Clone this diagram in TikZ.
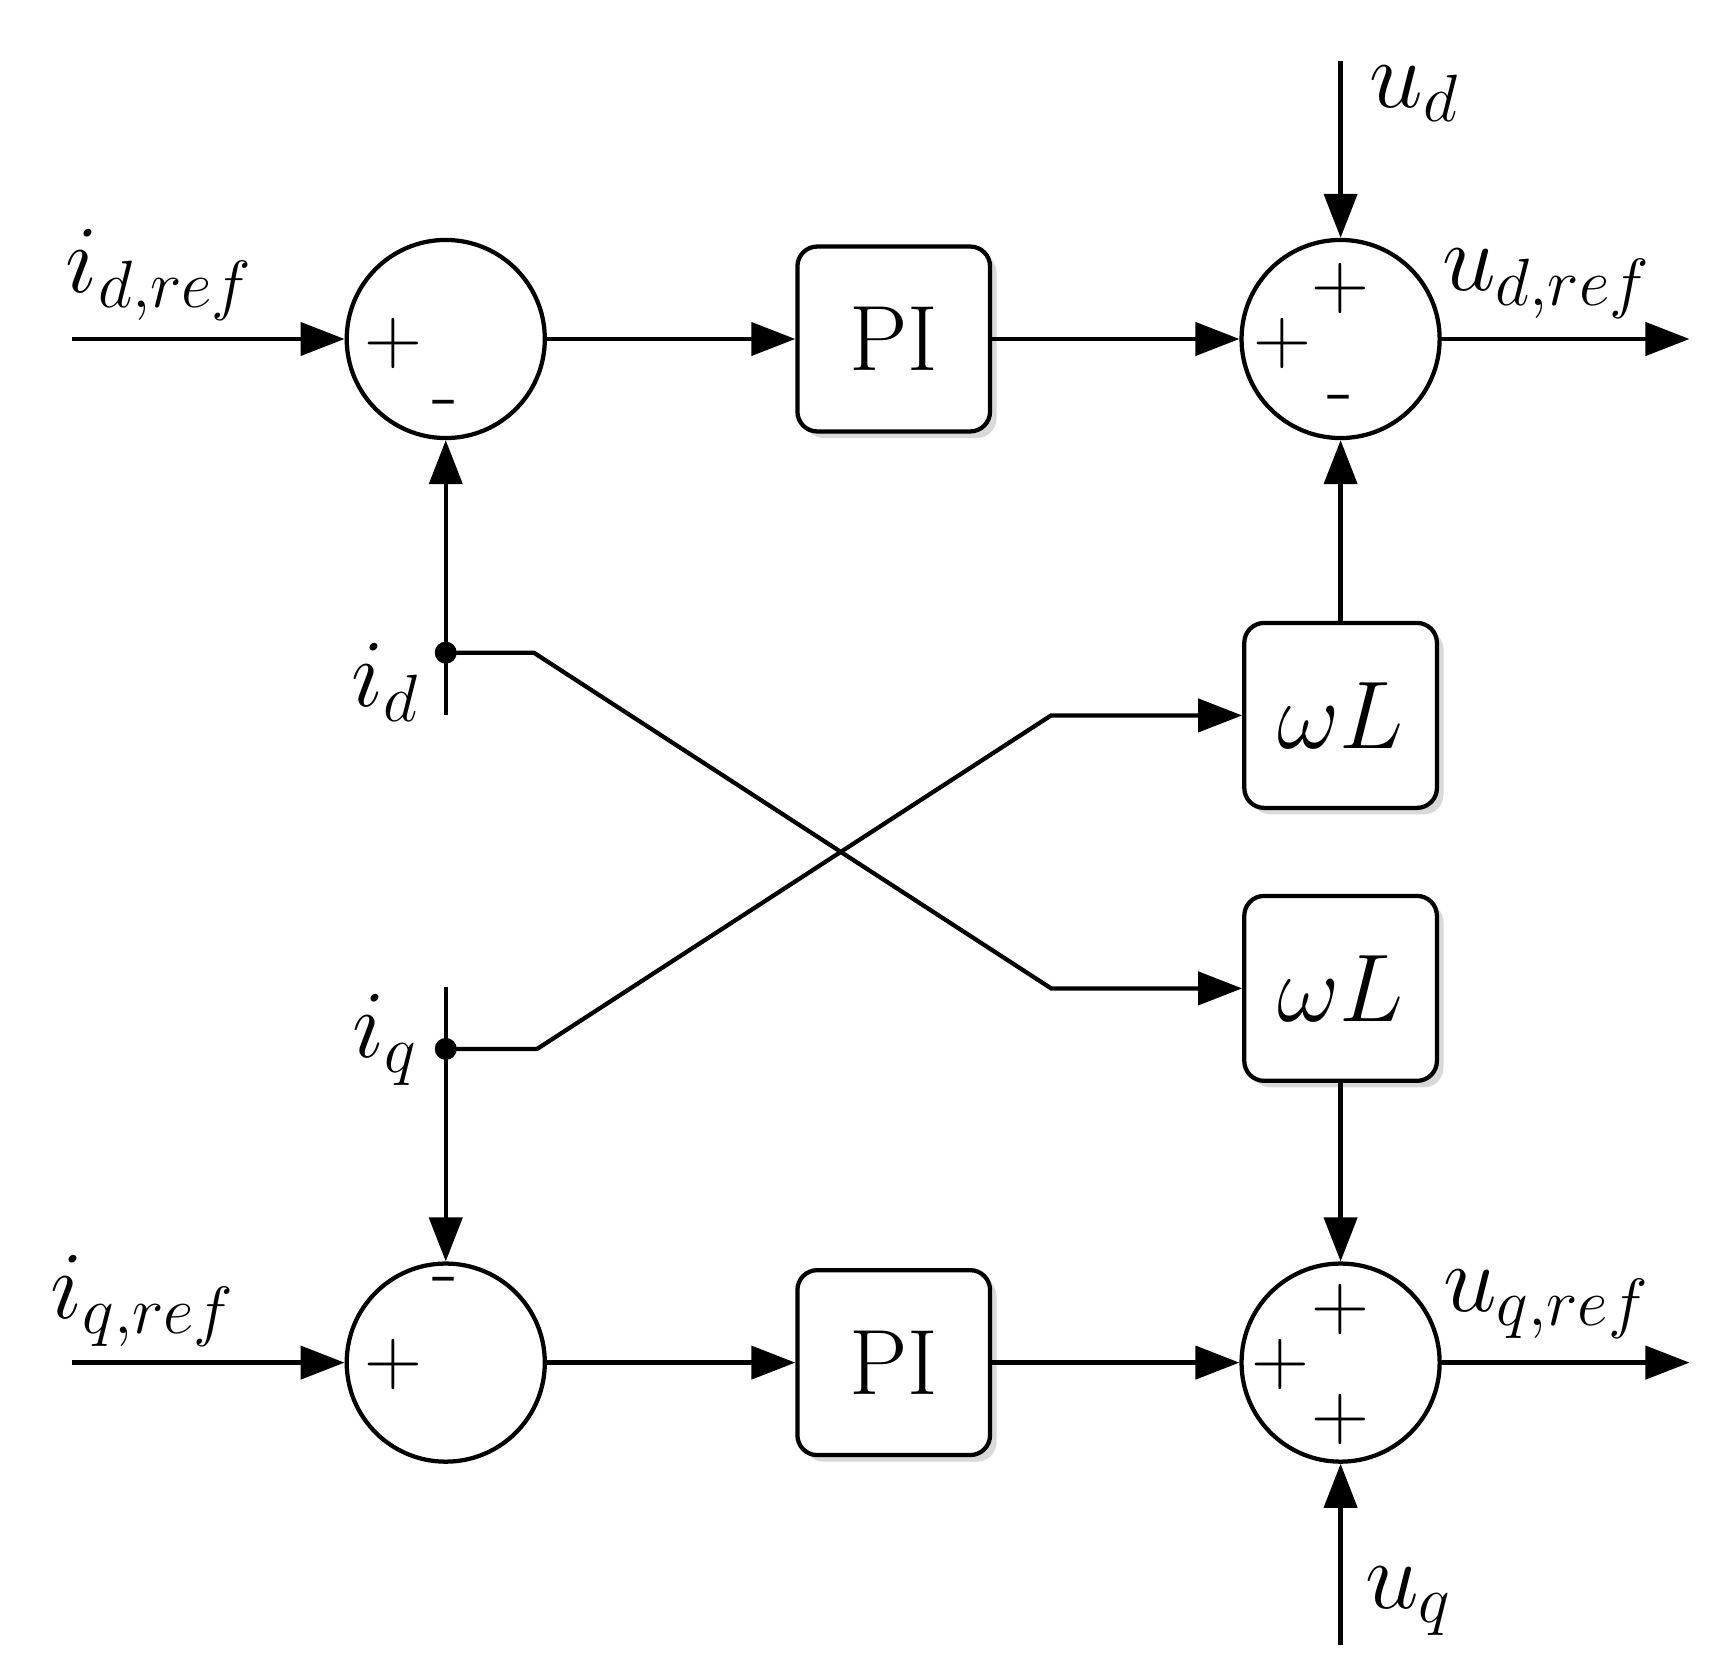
\documentclass[tikz,border=0pt]{standalone}
\usepackage{amsmath}
\usetikzlibrary{arrows.meta,shadows}
\tikzset{
  sumnode/.style={draw,circle,line width=1.1pt,minimum size=1.8cm,inner sep=0pt,fill=white},
  blk/.style={draw,rounded corners=0.18cm,line width=1.1pt,minimum width=1.75cm,minimum height=1.68cm,fill=white,
    drop shadow={shadow xshift=0.06cm,shadow yshift=-0.06cm,opacity=0.3},font=\fontsize{24}{28}\selectfont},
  sig/.style={line width=1.1pt,-{Triangle[length=0.4cm,width=0.3cm]}},
  wire/.style={line width=1.1pt},
  lbl/.style={font=\fontsize{25}{30}\selectfont},
  sgn/.style={font=\fontsize{22}{26}\selectfont,inner sep=0pt}
}
\begin{document}
\begin{tikzpicture}
\useasboundingbox (0,0) rectangle (15.6,-15.13);
% summing points
\node[sumnode] (s1) at (4.05,-3.08) {};
\node[sumnode] (s2) at (12.18,-3.08) {};
\node[sumnode] (s3) at (4.05,-12.38) {};
\node[sumnode] (s4) at (12.18,-12.38) {};
% blocks
\node[blk] (pid) at (8.12,-3.08) {PI};
\node[blk] (piq) at (8.12,-12.38) {PI};
\node[blk] (wl1) at (12.18,-6.50) {$\omega L$};
\node[blk] (wl2) at (12.18,-8.98) {$\omega L$};
% signs
\node[sgn] at (3.57,-3.12) {$+$};
\node[sgn] at (4.05,-3.73) {-};
\node[sgn] at (12.18,-2.62) {$+$};
\node[sgn] at (11.65,-3.12) {$+$};
\node[sgn] at (12.18,-3.68) {-};
\node[sgn] at (4.05,-11.70) {-};
\node[sgn] at (3.57,-12.40) {$+$};
\node[sgn] at (12.18,-11.90) {$+$};
\node[sgn] at (11.63,-12.40) {$+$};
\node[sgn] at (12.18,-12.90) {$+$};
% terminals
\coordinate (idin) at (0.65,-3.08);
\coordinate (iqin) at (0.65,-12.38);
\coordinate (udout) at (15.35,-3.08);
\coordinate (uqout) at (15.35,-12.38);
\coordinate (udin) at (12.18,-0.55);
\coordinate (uqin) at (12.18,-14.95);
\coordinate (jd) at (4.05,-5.93);
\coordinate (jq) at (4.05,-9.53);
\coordinate (jdend) at (4.05,-6.50);
\coordinate (jqend) at (4.05,-8.97);
% labels
\node[lbl] (lidr) at (1.45,-2.50) {$i_{d,ref}$};
\node[lbl] (liqr) at (1.30,-11.82) {$i_{q,ref}$};
\node[lbl] (ludr) at (14.05,-2.58) {$u_{d,ref}$};
\node[lbl] (luqr) at (14.05,-11.85) {$u_{q,ref}$};
\node[lbl] (lud) at (12.85,-0.85) {$u_d$};
\node[lbl] (luq) at (12.80,-14.55) {$u_q$};
\node[lbl] (lid) at (3.50,-6.20) {$i_d$};
\node[lbl] (liq) at (3.50,-9.45) {$i_q$};
% d axis
\draw[sig] (idin) -- (s1);
\draw[sig] (s1) -- (pid);
\draw[sig] (pid) -- (s2);
\draw[sig] (s2) -- (udout);
\draw[sig] (udin) -- (s2);
\draw[sig] (jd) -- (s1);
\draw[wire] (jd) -- (jdend);
\draw[sig] (wl1) -- (s2);
% q axis
\draw[sig] (iqin) -- (s3);
\draw[sig] (s3) -- (piq);
\draw[sig] (piq) -- (s4);
\draw[sig] (s4) -- (uqout);
\draw[sig] (uqin) -- (s4);
\draw[sig] (jq) -- (s3);
\draw[wire] (jq) -- (jqend);
\draw[sig] (wl2) -- (s4);
% cross coupling
\draw[sig] (jd) -- (4.85,-5.93) -- (9.55,-8.98) -- (wl2);
\draw[sig] (jq) -- (4.88,-9.53) -- (9.55,-6.50) -- (wl1);
\fill (jd) circle (0.1);
\fill (jq) circle (0.1);
\end{tikzpicture}
\end{document}
